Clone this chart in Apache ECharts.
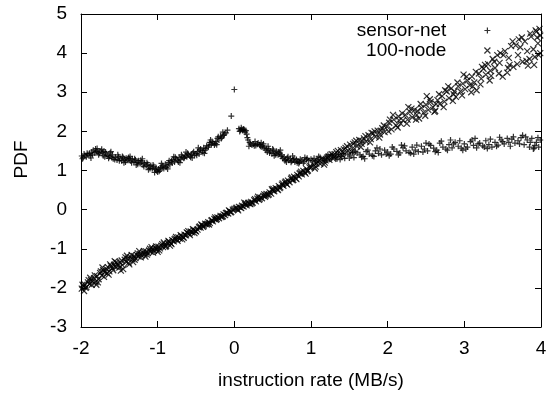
<!DOCTYPE html>
<html>
<head>
<meta charset="utf-8">
<script src="https://cdn.jsdelivr.net/npm/echarts@6/dist/echarts.min.js"></script>
<style>
html,body{margin:0;padding:0;background:#fff;}
#chart{width:552px;height:395px;}
</style>
</head>
<body>
<div id="chart"></div>
<script>
// ---- data ----
const seriesNames = ['sensor-net', '100-node'];
const xTicks = [-2, -1, 0, 1, 2, 3, 4];
const yTicks = [-3, -2, -1, 0, 1, 2, 3, 4, 5];
const xTitle = 'instruction rate (MB/s)';
const yTitle = 'PDF';

const sensorNet = [
[-1.99,1.37],[-1.97,1.33],[-1.95,1.38],[-1.93,1.35],[-1.91,1.41],[-1.89,1.44],[-1.88,1.38],[-1.86,1.47],[-1.84,1.52],[-1.82,1.45],[-1.80,1.49],[-1.78,1.47],[-1.76,1.44],[-1.74,1.50],[-1.72,1.46],[-1.70,1.49],[-1.69,1.35],[-1.67,1.42],[-1.65,1.38],[-1.64,1.31],[-1.62,1.45],[-1.60,1.33],[-1.58,1.30],[-1.56,1.28],
[-1.53,1.27],[-1.51,1.35],[-1.49,1.30],[-1.47,1.25],[-1.45,1.33],[-1.43,1.28],[-1.41,1.31],[-1.39,1.26],[-1.37,1.30],[-1.35,1.24],[-1.33,1.29],[-1.31,1.22],[-1.29,1.27],[-1.27,1.20],[-1.25,1.25],[-1.23,1.18],[-1.21,1.22],[-1.19,1.14],[-1.17,1.19],[-1.15,1.12],[-1.13,1.16],[-1.11,1.09],[-1.09,1.13],[-1.07,1.05],[-1.05,1.10],[-1.03,1.02],[-1.01,0.99],[-0.99,1.04],[-0.98,0.98],
[-0.96,1.08],[-0.94,1.12],[-0.92,1.05],[-0.90,1.16],[-0.88,1.12],[-0.86,1.20],[-0.84,1.15],[-0.82,1.24],[-0.80,1.28],[-0.78,1.22],[-0.76,1.30],[-0.74,1.26],[-0.72,1.33],[-0.70,1.28],[-0.68,1.36],[-0.66,1.31],[-0.64,1.38],[-0.62,1.35],[-0.60,1.41],[-0.58,1.37],[-0.56,1.40],[-0.54,1.45],[-0.52,1.39],[-0.50,1.43],
[-0.48,1.48],[-0.46,1.42],[-0.44,1.55],[-0.42,1.50],[-0.40,1.58],[-0.38,1.52],[-0.36,1.63],[-0.34,1.60],[-0.32,1.72],[-0.30,1.66],[-0.28,1.70],[-0.26,1.65],[-0.24,1.74],[-0.22,1.82],[-0.20,1.78],[-0.18,1.88],[-0.16,1.85],[-0.14,1.90],[-0.11,1.96],[-0.09,2.03],[-0.04,2.39],[0.00,3.07],
[0.06,2.07],[0.08,2.03],[0.09,2.09],[0.11,2.02],[0.12,2.06],[0.14,1.98],[0.16,1.93],[0.18,1.78],[0.20,1.72],[0.23,1.65],[0.25,1.68],[0.28,1.64],[0.31,1.70],[0.33,1.66],[0.35,1.71],[0.37,1.63],[0.39,1.58],[0.41,1.52],[0.43,1.47],[0.45,1.55],[0.47,1.50],[0.49,1.43],
[0.51,1.52],[0.53,1.45],[0.55,1.49],[0.57,1.40],[0.59,1.44],[0.61,1.36],[0.63,1.31],[0.65,1.34],[0.67,1.28],[0.69,1.32],[0.71,1.26],[0.73,1.30],[0.75,1.24],[0.77,1.27],[0.79,1.22],[0.81,1.28],[0.83,1.24],[0.85,1.21],[0.88,1.26],[0.91,1.23],[0.94,1.28],[0.97,1.25],
[1.00,1.29],[1.04,1.31],[1.08,1.27],[1.12,1.33],[1.16,1.30],[1.20,1.35],[1.24,1.29],[1.28,1.38],[1.32,1.33],[1.36,1.40],[1.40,1.36],[1.44,1.31],[1.48,1.42],[1.52,1.37],[1.56,1.33],[1.60,1.45],[1.64,1.40],[1.68,1.36],[1.72,1.48],[1.76,1.42],[1.80,1.38],[1.84,1.50],[1.88,1.44],[1.92,1.40],[1.96,1.52],
[2.00,1.47],[2.04,1.42],[2.08,1.55],[2.12,1.49],[2.16,1.45],[2.20,1.58],[2.24,1.50],[2.28,1.46],[2.32,1.60],[2.36,1.52],[2.40,1.48],[2.44,1.62],[2.48,1.55],[2.52,1.50],[2.56,1.64],[2.60,1.57],[2.64,1.52],[2.68,1.70],[2.72,1.60],[2.76,1.55],[2.80,1.66],[2.84,1.58],[2.88,1.72],[2.92,1.62],[2.96,1.57],
[3.00,1.68],[3.04,1.60],[3.08,1.74],[3.12,1.64],[3.16,1.58],[3.20,1.70],[3.24,1.63],[3.28,1.76],[3.32,1.66],[3.36,1.60],[3.40,1.72],[3.44,1.65],[3.48,1.78],[3.52,1.68],[3.56,1.82],[3.62,1.80],[3.66,1.70],[3.70,1.76],[3.74,1.84],[3.78,1.66],[3.82,1.78],[3.85,1.60],[3.88,1.82],[3.91,1.57],[3.94,1.72],[3.97,1.60],[3.99,1.78],
[-1.98,1.30],[-1.92,1.44],[-1.85,1.40],[-1.81,1.55],[-1.77,1.40],[-1.73,1.54],[-1.68,1.47],[-1.63,1.36],[-1.59,1.40],[-1.55,1.34],[-1.50,1.25],[-1.46,1.36],[-1.42,1.22],[-1.38,1.33],[-1.34,1.20],[-1.30,1.30],[-1.26,1.16],[-1.22,1.26],[-1.18,1.10],[-1.14,1.20],[-1.10,1.05],[-1.06,1.14],[-1.02,1.07],[-1.00,0.96],[-0.97,1.01],[-0.93,1.09],[-0.89,1.08],[-0.85,1.25],[-0.81,1.19],[-0.77,1.34],[-0.73,1.22],[-0.69,1.40],[-0.65,1.33],[-0.61,1.44],[-0.57,1.34],[-0.53,1.48],[-0.49,1.39],[-0.45,1.52],[-0.41,1.46],[-0.37,1.56],[-0.33,1.65],[-0.29,1.74],[-0.25,1.69],[-0.21,1.86],[-0.17,1.82],[-0.13,1.93],
[0.07,2.00],[0.10,2.05],[0.13,2.04],[0.17,1.84],[0.21,1.68],[0.26,1.63],[0.30,1.67],[0.34,1.62],[0.38,1.68],[0.42,1.56],[0.46,1.45],[0.50,1.55],[0.54,1.40],[0.58,1.47],[0.62,1.40],[0.66,1.25],[0.70,1.35],[0.74,1.21],[0.78,1.31],[0.82,1.20],[0.86,1.29],[0.90,1.19],[0.95,1.31],[1.02,1.25],[1.10,1.36],[1.18,1.26],[1.26,1.41],[1.34,1.30],[1.42,1.44],[1.50,1.32],[1.58,1.48],[1.66,1.34],[1.74,1.52],[1.82,1.36],[1.90,1.55],[1.98,1.42],
[2.06,1.60],[2.14,1.40],[2.22,1.63],[2.30,1.44],[2.38,1.65],[2.46,1.47],[2.54,1.68],[2.62,1.48],[2.70,1.75],[2.78,1.52],[2.86,1.68],[2.94,1.76],[3.02,1.55],[3.10,1.78],[3.18,1.68],[3.26,1.60],[3.34,1.80],[3.42,1.62],[3.50,1.74],[3.58,1.72],[3.64,1.86],[3.72,1.68],[3.80,1.86],[3.86,1.72],[3.92,1.64],[3.96,1.84],
[-1.96,1.42],[-1.87,1.32],[-1.79,1.56],[-1.71,1.38],[-1.61,1.48],[-1.52,1.40],[-1.44,1.20],[-1.36,1.36],[-1.28,1.14],[-1.20,1.30],[-1.12,1.02],[-1.04,0.95],[-0.95,1.18],[-0.87,1.04],[-0.79,1.35],[-0.71,1.20],[-0.63,1.47],[-0.55,1.32],[-0.47,1.58],[-0.39,1.44],[-0.31,1.78],[-0.23,1.66],[-0.15,1.98],
[0.15,2.02],[0.19,1.62],[0.27,1.74],[0.36,1.60],[0.44,1.62],[0.52,1.38],[0.60,1.52],[0.68,1.22],[0.76,1.37],[0.84,1.18],[0.92,1.33],[1.06,1.22],[1.22,1.40],[1.38,1.28],[1.54,1.46],[1.70,1.30],[1.86,1.58],[2.02,1.38],[2.18,1.65],[2.34,1.42],[2.50,1.70],[2.66,1.46],[2.82,1.78],[2.98,1.52],[3.14,1.82],[3.30,1.56],[3.46,1.85],[3.60,1.62],[3.76,1.90],[3.90,1.55]
];

const node100 = [
[-1.99,-2.02],[-1.97,-1.96],[-1.95,-1.92],[-1.93,-1.98],[-1.91,-1.86],[-1.89,-1.90],[-1.87,-1.80],[-1.85,-1.84],[-1.83,-1.75],[-1.81,-1.85],[-1.79,-1.70],[-1.77,-1.78],[-1.75,-1.62],[-1.73,-1.68],[-1.71,-1.55],[-1.69,-1.60],[-1.67,-1.52],[-1.65,-1.47],[-1.63,-1.58],[-1.61,-1.44],[-1.59,-1.50],[-1.57,-1.41],[-1.55,-1.46],[-1.53,-1.38],[-1.51,-1.43],
[-1.49,-1.35],[-1.47,-1.30],[-1.45,-1.52],[-1.43,-1.28],[-1.41,-1.34],[-1.39,-1.25],[-1.37,-1.40],[-1.35,-1.22],[-1.33,-1.27],[-1.31,-1.19],[-1.29,-1.24],[-1.27,-1.16],[-1.25,-1.20],[-1.23,-1.13],[-1.21,-1.17],[-1.19,-1.10],[-1.17,-1.14],[-1.15,-1.07],[-1.13,-1.11],[-1.11,-1.04],[-1.09,-1.08],[-1.07,-1.01],[-1.05,-1.05],[-1.03,-0.98],[-1.01,-1.02],
[-0.99,-0.95],[-0.97,-0.99],[-0.95,-0.92],[-0.93,-0.96],[-0.91,-0.89],[-0.89,-0.93],[-0.87,-0.85],[-0.85,-0.82],[-0.83,-0.86],[-0.81,-0.78],[-0.79,-0.81],[-0.77,-0.74],[-0.75,-0.77],[-0.73,-0.71],[-0.71,-0.74],[-0.69,-0.67],[-0.67,-0.70],[-0.65,-0.64],[-0.63,-0.66],[-0.61,-0.60],[-0.59,-0.62],[-0.57,-0.56],[-0.55,-0.58],[-0.53,-0.52],[-0.51,-0.54],
[-0.48,-0.51],[-0.46,-0.45],[-0.44,-0.46],[-0.42,-0.40],[-0.40,-0.42],[-0.38,-0.36],[-0.36,-0.38],[-0.34,-0.32],[-0.32,-0.34],[-0.30,-0.28],[-0.28,-0.30],[-0.26,-0.24],[-0.24,-0.26],[-0.22,-0.20],[-0.20,-0.22],[-0.18,-0.16],[-0.16,-0.18],[-0.14,-0.12],[-0.12,-0.14],[-0.10,-0.08],[-0.08,-0.10],[-0.06,-0.04],[-0.04,-0.06],[-0.02,0.00],
[0.00,0.02],[0.02,0.03],[0.04,0.01],[0.06,0.07],[0.08,0.05],[0.10,0.10],[0.12,0.08],[0.14,0.13],[0.16,0.11],[0.18,0.17],[0.20,0.15],[0.22,0.20],[0.24,0.18],[0.26,0.24],[0.28,0.21],[0.30,0.28],[0.32,0.25],[0.34,0.31],[0.36,0.29],[0.38,0.35],[0.40,0.33],[0.42,0.40],[0.44,0.37],[0.46,0.44],[0.48,0.41],
[0.50,0.49],[0.52,0.47],[0.54,0.55],[0.56,0.52],[0.58,0.60],[0.60,0.57],[0.62,0.64],[0.64,0.61],[0.66,0.69],[0.68,0.66],[0.70,0.74],[0.72,0.70],[0.74,0.79],[0.76,0.75],[0.78,0.84],[0.80,0.80],[0.82,0.89],[0.84,0.85],[0.86,0.94],[0.88,0.90],[0.90,0.99],[0.92,0.95],[0.94,1.04],[0.96,1.00],[0.98,1.08],
[1.00,1.08],[1.03,1.15],[1.06,1.10],[1.09,1.22],[1.12,1.17],[1.15,1.28],[1.18,1.20],[1.21,1.33],[1.24,1.27],[1.27,1.42],[1.30,1.34],[1.33,1.47],[1.36,1.38],[1.39,1.52],[1.42,1.45],[1.45,1.58],[1.48,1.50],[1.51,1.66],[1.54,1.56],[1.57,1.72],[1.60,1.62],[1.63,1.78],[1.66,1.68],[1.69,1.82],[1.72,1.74],[1.75,1.90],[1.78,1.80],[1.81,1.95],[1.84,1.86],[1.87,2.02],[1.90,1.92],[1.93,2.08],[1.96,1.98],[1.99,2.12],
[2.02,2.22],[2.05,2.05],[2.08,2.30],[2.11,2.15],[2.14,2.38],[2.17,2.20],[2.20,2.28],[2.23,2.42],[2.26,2.30],[2.29,2.50],[2.32,2.36],[2.35,2.55],[2.38,2.42],[2.41,2.33],[2.44,2.60],[2.47,2.48],[2.50,2.68],[2.53,2.55],[2.56,2.75],[2.59,2.62],[2.62,2.52],[2.65,2.80],[2.68,2.70],[2.71,2.90],[2.74,2.76],[2.77,3.02],[2.80,2.85],[2.83,3.10],[2.86,2.95],[2.89,2.88],[2.92,3.15],[2.95,3.02],[2.98,3.22],
[3.01,3.08],[3.04,3.30],[3.07,3.18],[3.10,3.40],[3.13,3.25],[3.16,3.05],[3.19,3.48],[3.22,3.35],[3.25,3.60],[3.28,3.45],[3.31,3.72],[3.34,3.55],[3.37,3.85],[3.40,3.62],[3.43,3.95],[3.46,3.75],[3.50,3.40],[3.53,4.05],[3.56,3.50],[3.58,3.88],[3.61,4.18],[3.64,3.65],[3.67,4.20],[3.70,3.95],[3.73,4.15],[3.76,3.78],[3.79,4.30],[3.82,4.05],[3.85,3.85],[3.87,4.42],[3.90,4.10],[3.92,3.90],[3.94,4.55],[3.96,4.25],[3.98,4.62],[3.99,4.00],
[-1.98,-1.92],[-1.94,-2.00],[-1.90,-1.80],[-1.86,-1.92],[-1.82,-1.68],[-1.78,-1.86],[-1.74,-1.58],[-1.70,-1.72],[-1.66,-1.62],[-1.62,-1.40],[-1.58,-1.55],[-1.54,-1.35],[-1.50,-1.48],[-1.46,-1.42],[-1.42,-1.22],[-1.38,-1.36],[-1.34,-1.16],[-1.30,-1.28],[-1.26,-1.12],[-1.22,-1.22],[-1.18,-1.06],[-1.14,-1.15],[-1.10,-1.00],[-1.06,-1.10],[-1.02,-0.94],[-0.98,-1.04],[-0.94,-0.88],[-0.90,-0.95],[-0.86,-0.80],[-0.82,-0.88],[-0.78,-0.76],[-0.74,-0.80],[-0.70,-0.65],[-0.66,-0.72],[-0.62,-0.58],[-0.58,-0.65],[-0.54,-0.50],[-0.50,-0.56],[-0.45,-0.43],[-0.41,-0.44],[-0.35,-0.36],[-0.29,-0.27],[-0.23,-0.24],[-0.17,-0.19],[-0.11,-0.09],[-0.05,-0.07],
[0.03,0.05],[0.09,0.04],[0.15,0.16],[0.21,0.14],[0.27,0.27],[0.33,0.27],[0.39,0.39],[0.45,0.39],[0.51,0.53],[0.57,0.50],[0.63,0.67],[0.69,0.64],[0.75,0.82],[0.81,0.78],[0.87,0.97],[0.93,0.92],[0.99,1.12],[1.05,1.05],[1.11,1.25],[1.17,1.15],[1.23,1.36],[1.29,1.30],[1.35,1.50],[1.41,1.38],[1.47,1.62],[1.53,1.48],[1.59,1.76],[1.65,1.60],[1.71,1.88],[1.77,1.72],[1.83,2.00],[1.89,1.84],[1.95,2.15],
[2.01,2.00],[2.07,2.42],[2.13,2.10],[2.19,2.46],[2.25,2.20],[2.31,2.58],[2.37,2.30],[2.43,2.70],[2.49,2.40],[2.55,2.82],[2.61,2.50],[2.67,2.95],[2.73,2.62],[2.79,3.15],[2.85,2.78],[2.91,3.25],[2.97,2.92],[3.03,3.40],[3.09,3.00],[3.15,3.52],[3.21,3.20],[3.27,3.70],[3.33,3.30],[3.39,3.78],[3.45,3.48],[3.51,3.95],[3.57,3.62],[3.63,4.30],[3.69,3.72],[3.75,4.40],[3.81,3.80],[3.86,4.50],[3.91,3.70],[3.95,4.40],[3.97,3.95],
[-1.96,-2.08],[-1.88,-1.74],[-1.80,-1.92],[-1.72,-1.48],[-1.64,-1.66],[-1.56,-1.32],[-1.48,-1.56],[-1.40,-1.18],[-1.32,-1.34],[-1.24,-1.06],[-1.16,-1.20],[-1.08,-0.96],[-1.00,-1.08],[-0.92,-0.84],[-0.84,-0.92],[-0.76,-0.70],[-0.68,-0.76],[-0.60,-0.55],[-0.52,-0.60],[-0.43,-0.38],[-0.33,-0.38],[-0.25,-0.20],[-0.15,-0.17],[-0.07,-0.02],
[0.05,-0.02],[0.13,0.18],[0.23,0.16],[0.31,0.33],[0.41,0.36],[0.49,0.52],[0.59,0.55],[0.67,0.72],[0.77,0.76],[0.85,0.92],[0.95,0.98],[1.07,1.18],[1.19,1.26],[1.31,1.42],[1.43,1.54],[1.55,1.68],[1.67,1.75],[1.79,1.96],[1.91,2.02],[2.03,2.30],[2.15,2.28],[2.27,2.62],[2.39,2.52],[2.51,2.90],[2.63,2.70],[2.75,3.05],[2.87,3.02],[2.99,3.45],[3.11,3.15],[3.23,3.65],[3.35,3.42],[3.47,4.00],[3.59,3.70],[3.71,4.35],[3.83,3.68],[3.93,4.58],[3.99,4.45]
];

// ---- chart ----
const FONT = '"Liberation Sans", Arial, Helvetica, sans-serif';
const FS = 19;
const plusPath = 'path://M0,5L10,5M5,0L5,10';
const crossPath = 'path://M0,0L10,10M10,0L0,10';
const markStyle = {color: 'rgba(0,0,0,0)', borderColor: '#000', borderWidth: 1.2};

const chart = echarts.init(document.getElementById('chart'), null, {renderer: 'canvas'});
const xMin = xTicks[0], xMax = xTicks[xTicks.length - 1];
const yMin = yTicks[0], yMax = yTicks[yTicks.length - 1];
const axisLineStyle = {show: true, onZero: false, lineStyle: {color: '#000', width: 1}};
const tickStyle = {show: true, inside: true, length: 6, lineStyle: {color: '#000', width: 1}};

const legendCommon = {
  orient: 'vertical',
  align: 'right',
  right: 56,
  itemWidth: 6,
  itemHeight: 6,
  selectedMode: false,
  textStyle: {fontFamily: FONT, fontSize: FS, color: '#000', padding: [0, 33, 0, 0]},
  itemStyle: markStyle
};

chart.setOption({
  animation: false,
  backgroundColor: '#fff',
  textStyle: {fontFamily: FONT},
  grid: {left: 81, right: 11, top: 14, bottom: 66, containLabel: false},
  legend: [
    Object.assign({}, legendCommon, {top: 16, data: [{name: seriesNames[0], icon: plusPath}]}),
    Object.assign({}, legendCommon, {top: 36, data: [{name: seriesNames[1], icon: crossPath}]})
  ],
  xAxis: [
    {
      type: 'value', position: 'bottom', min: xMin, max: xMax, interval: 1,
      axisLine: axisLineStyle, axisTick: tickStyle, splitLine: {show: false},
      axisLabel: {color: '#000', fontSize: FS, fontFamily: FONT, margin: 12},
      name: xTitle, nameLocation: 'middle', nameGap: 44,
      nameTextStyle: {color: '#000', fontSize: FS, fontFamily: FONT}
    },
    {
      type: 'value', position: 'top', min: xMin, max: xMax, interval: 1,
      axisLine: axisLineStyle, axisTick: tickStyle, splitLine: {show: false},
      axisLabel: {show: false}
    }
  ],
  yAxis: [
    {
      type: 'value', position: 'left', min: yMin, max: yMax, interval: 1,
      axisLine: axisLineStyle, axisTick: tickStyle, splitLine: {show: false},
      axisLabel: {color: '#000', fontSize: FS, fontFamily: FONT, margin: 14},
      name: yTitle, nameLocation: 'middle', nameGap: 50,
      nameTextStyle: {color: '#000', fontSize: FS, fontFamily: FONT, padding: [0, 0, 0, 22]}
    },
    {
      type: 'value', position: 'right', min: yMin, max: yMax, interval: 1,
      axisLine: axisLineStyle, axisTick: tickStyle, splitLine: {show: false},
      axisLabel: {show: false}
    }
  ],
  series: [
    {
      name: seriesNames[0], type: 'scatter', xAxisIndex: 0, yAxisIndex: 0,
      symbol: plusPath, symbolSize: 6, itemStyle: markStyle, data: sensorNet,
      emphasis: {disabled: true}
    },
    {
      name: seriesNames[1], type: 'scatter', xAxisIndex: 0, yAxisIndex: 0,
      symbol: crossPath, symbolSize: 6, itemStyle: markStyle, data: node100,
      emphasis: {disabled: true}
    }
  ]
});
</script>
</body>
</html>
